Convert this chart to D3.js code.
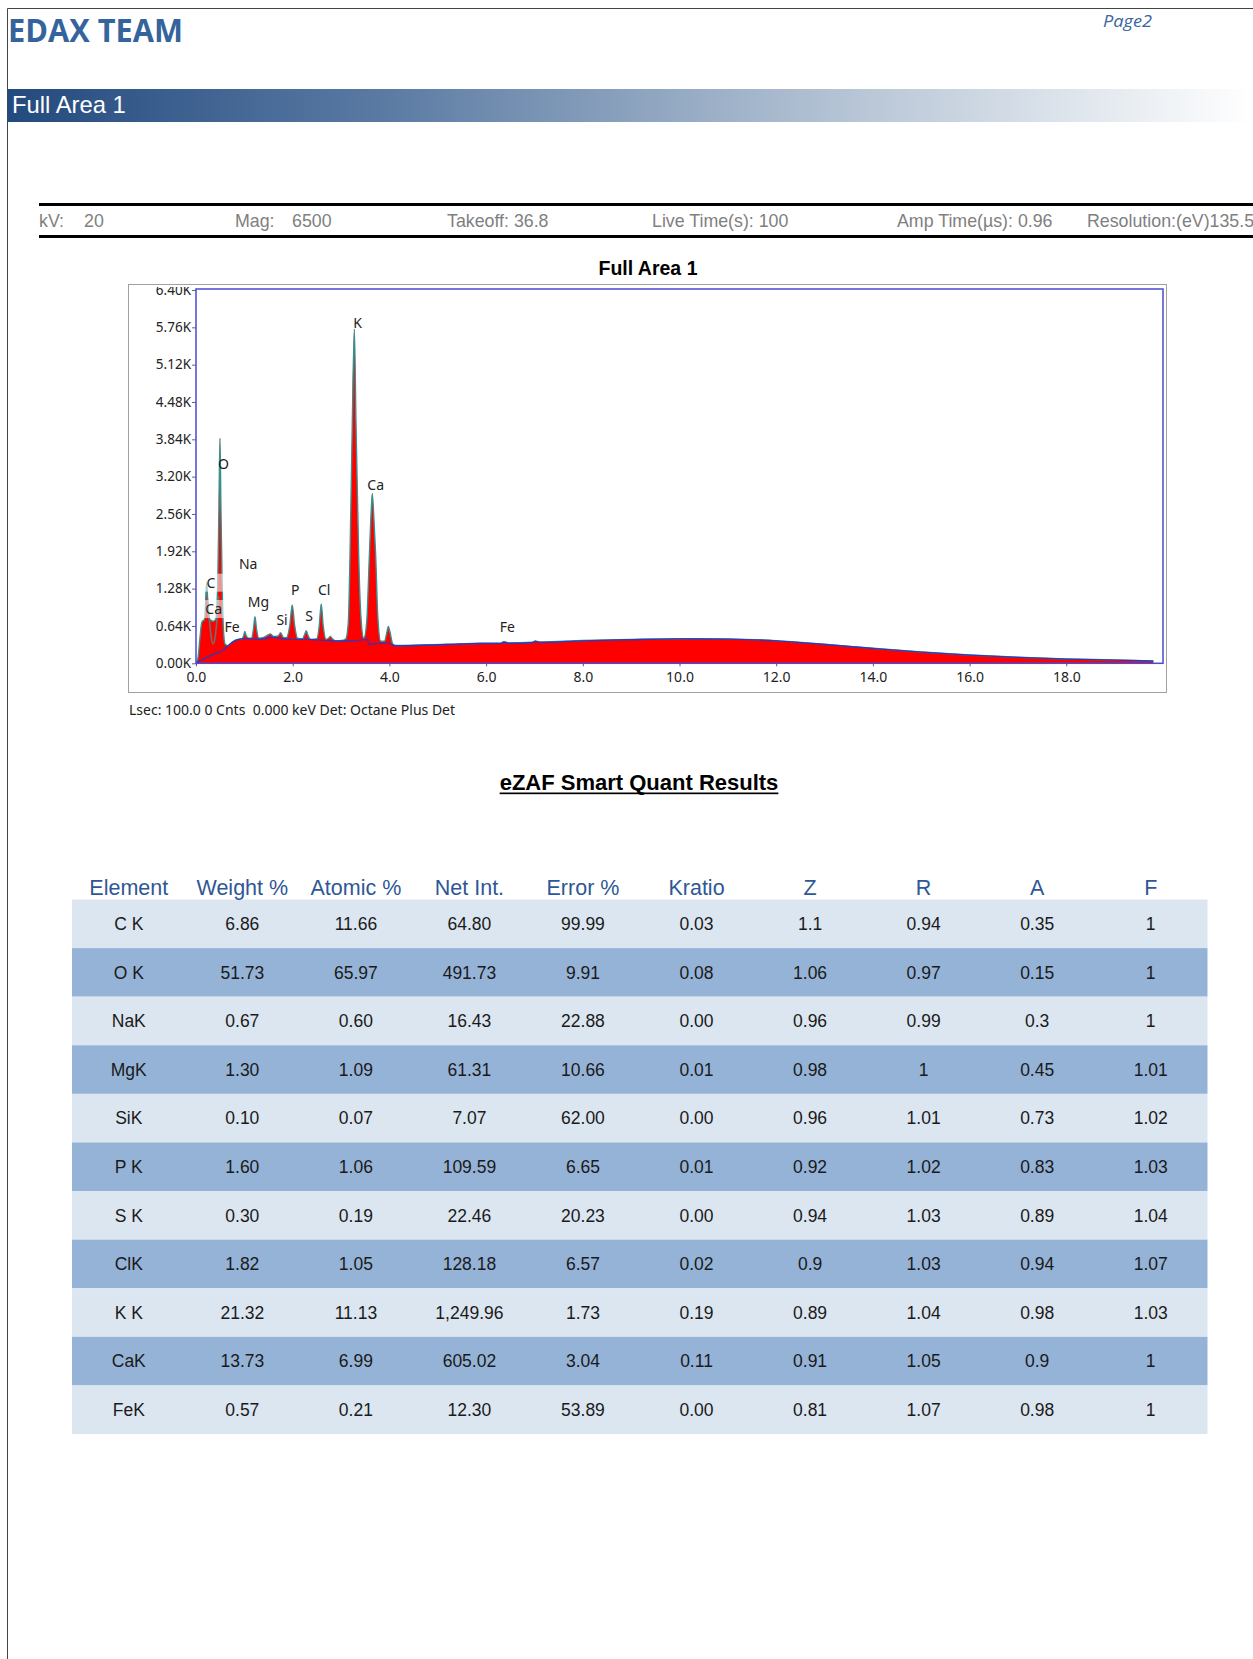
<!DOCTYPE html>
<html>
<head>
<meta charset="utf-8">
<script src="https://cdn.jsdelivr.net/npm/d3@7"></script>
<style>
  body { margin: 0; background: #fff; }
  svg { display: block; }
</style>
</head>
<body>
<svg id="page" width="1253" height="1659"></svg>
<script>
// ---- spectrum: energy in keV, counts ----
const specKeV = [0.00, 0.04, 0.08, 0.12, 0.18, 0.22, 0.26, 0.30, 0.36, 0.41, 0.45, 0.475, 0.496, 0.515, 0.54, 0.565, 0.60, 0.66, 0.71, 0.76, 0.84, 0.95, 0.985, 1.01, 1.04, 1.09, 1.15, 1.19, 1.22, 1.25, 1.30, 1.40, 1.50, 1.54, 1.60, 1.70, 1.75, 1.80, 1.87, 1.94, 1.99, 2.04, 2.10, 2.20, 2.25, 2.28, 2.31, 2.38, 2.50, 2.55, 2.59, 2.63, 2.69, 2.74, 2.78, 2.82, 2.90, 3.05, 3.10, 3.15, 3.185, 3.233, 3.275, 3.309, 3.365, 3.41, 3.47, 3.53, 3.585, 3.62, 3.646, 3.675, 3.717, 3.76, 3.82, 3.90, 3.95, 3.978, 4.01, 4.07, 4.12, 5.20, 5.90, 6.30, 6.37, 6.46, 6.95, 7.02, 7.10, 8.00, 9.00, 10.00, 11.00, 12.00, 13.00, 14.00, 15.00, 16.00, 17.00, 18.00, 19.00, 19.80];
const specCounts = [20, 90, 420, 700, 760, 1380, 800, 740, 720, 760, 1400, 2700, 3860, 2700, 1400, 620, 330, 300, 335, 370, 405, 420, 470, 545, 470, 430, 430, 600, 800, 600, 430, 445, 490, 505, 460, 470, 525, 450, 440, 650, 1000, 650, 430, 420, 500, 560, 490, 410, 420, 650, 1017, 650, 410, 430, 460, 420, 385, 395, 420, 700, 1830, 4125, 5730, 4125, 1830, 800, 430, 700, 1830, 2550, 2914, 2550, 1830, 800, 380, 380, 540, 630, 540, 330, 305, 326, 343, 345, 372, 350, 360, 385, 365, 390, 410, 422, 418, 388, 326, 257, 194, 142, 103, 74, 57, 39];

// background (blue) line
const bgKeV = [0.02, 0.20, 0.40, 0.55, 0.65, 0.75, 0.85, 1.00, 1.30, 1.60, 1.875, 2.30, 2.85, 3.25, 3.555, 3.565, 3.94, 4.12, 5.20, 5.90, 6.30, 6.37, 6.46, 6.95, 7.02, 7.10, 8.00, 9.00, 10.00, 11.00, 12.00, 13.00, 14.00, 15.00, 16.00, 17.00, 18.00, 19.00, 19.80];
const bgCounts = [15, 90, 165, 215, 290, 360, 400, 425, 412, 446, 411, 411, 383, 383, 411, 326, 354, 300, 322, 340, 340, 362, 343, 352, 375, 358, 385, 405, 418, 414, 384, 322, 254, 191, 140, 101, 72, 55, 37];

// grey fit line between C and O
const fitKeV = [0.23, 0.27, 0.31, 0.355, 0.40, 0.44, 0.47];
const fitCounts = [1150, 800, 480, 330, 480, 800, 1150];

// peak labels (centre position in keV / counts); boxed = label drawn on a pale box
const peakNames = ["K", "O", "Ca", "Na", "C", "Ca", "Mg", "P", "Cl", "Si", "S", "Fe", "Fe"];
const peakKeV = [3.34, 0.57, 3.716, 1.08, 0.31, 0.366, 1.29, 2.05, 2.65, 1.78, 2.34, 0.745, 6.44];
const peakCounts = [5840, 3412, 3057, 1708, 1382, 931, 1056, 1257, 1257, 742, 811, 628, 617];
const peakBoxed = [false, false, false, false, true, true, false, false, false, false, false, false, false];

const yTicks = [0, 640, 1280, 1920, 2560, 3200, 3840, 4480, 5120, 5760, 6400];
const xTicks = [0, 2, 4, 6, 8, 10, 12, 14, 16, 18];

// ---- eZAF quant table ----
const columns = ["Element", "Weight %", "Atomic %", "Net Int.", "Error %", "Kratio", "Z", "R", "A", "F"];
const elements = ["C K", "O K", "NaK", "MgK", "SiK", "P K", "S K", "ClK", "K K", "CaK", "FeK"];
const weightPct = ["6.86", "51.73", "0.67", "1.30", "0.10", "1.60", "0.30", "1.82", "21.32", "13.73", "0.57"];
const atomicPct = ["11.66", "65.97", "0.60", "1.09", "0.07", "1.06", "0.19", "1.05", "11.13", "6.99", "0.21"];
const netInt = ["64.80", "491.73", "16.43", "61.31", "7.07", "109.59", "22.46", "128.18", "1,249.96", "605.02", "12.30"];
const errorPct = ["99.99", "9.91", "22.88", "10.66", "62.00", "6.65", "20.23", "6.57", "1.73", "3.04", "53.89"];
const kratio = ["0.03", "0.08", "0.00", "0.01", "0.00", "0.01", "0.00", "0.02", "0.19", "0.11", "0.00"];
const zFactor = ["1.1", "1.06", "0.96", "0.98", "0.96", "0.92", "0.94", "0.9", "0.89", "0.91", "0.81"];
const rFactor = ["0.94", "0.97", "0.99", "1", "1.01", "1.02", "1.03", "1.03", "1.04", "1.05", "1.07"];
const aFactor = ["0.35", "0.15", "0.3", "0.45", "0.73", "0.83", "0.89", "0.94", "0.98", "0.9", "0.98"];
const fFactor = ["1", "1", "1", "1.01", "1.02", "1.03", "1.04", "1.07", "1.03", "1", "1"];

const infoItems = [
  { text: "kV:", x: 39 }, { text: "20", x: 84 },
  { text: "Mag:", x: 235 }, { text: "6500", x: 292 },
  { text: "Takeoff: 36.8", x: 447 },
  { text: "Live Time(s): 100", x: 652 },
  { text: "Amp Time(\u00b5s): 0.96", x: 897 },
  { text: "Resolution:(eV)135.5", x: 1087 }
];

const svg = d3.select("#page");
const sans = "'Liberation Sans', Arial, sans-serif";
const ui = "'Noto Sans', 'Open Sans', sans-serif";

svg.append("rect").attr("width", 1253).attr("height", 1659).attr("fill", "#fff");

// page frame
svg.append("path")
  .attr("d", "M7.5,1659V8.5H1253")
  .attr("fill", "none").attr("stroke", "#444").attr("stroke-width", 1);

// header
svg.append("text")
  .attr("x", 8).attr("y", 42)
  .attr("font-family", "'Open Sans', sans-serif").attr("font-weight", 700)
  .attr("font-size", 33).attr("fill", "#35639c")
  .attr("textLength", 175).attr("lengthAdjust", "spacingAndGlyphs")
  .text("EDAX TEAM");

svg.append("text")
  .attr("x", 1103).attr("y", 27)
  .attr("font-family", "'Open Sans', sans-serif").attr("font-style", "italic")
  .attr("font-size", 16).attr("fill", "#3b66a0")
  .attr("textLength", 49).attr("lengthAdjust", "spacingAndGlyphs")
  .text("Page2");

// banner
const defs = svg.append("defs");
const grad = defs.append("linearGradient").attr("id", "banner").attr("x1", "0%").attr("x2", "100%");
grad.append("stop").attr("offset", "0%").attr("stop-color", "#234a7e");
grad.append("stop").attr("offset", "30%").attr("stop-color", "#5a7aa3");
grad.append("stop").attr("offset", "62%").attr("stop-color", "#a9bace");
grad.append("stop").attr("offset", "100%").attr("stop-color", "#ffffff");

svg.append("rect")
  .attr("x", 7.5).attr("y", 89).attr("width", 1245.5).attr("height", 33)
  .attr("fill", "url(#banner)");
svg.append("text")
  .attr("x", 12).attr("y", 113)
  .attr("font-family", sans).attr("font-size", 23.8).attr("fill", "#fff")
  .text("Full Area 1");

// acquisition info line
svg.append("rect").attr("x", 39).attr("y", 203).attr("width", 1214).attr("height", 3).attr("fill", "#000");
svg.append("rect").attr("x", 39).attr("y", 235).attr("width", 1214).attr("height", 3).attr("fill", "#000");
svg.selectAll("text.info")
  .data(infoItems)
  .join("text")
  .attr("class", "info")
  .attr("x", d => d.x).attr("y", 226.5)
  .attr("font-family", sans).attr("font-size", 17.8).attr("fill", "#808080")
  .text(d => d.text);

// ---- spectrum chart ----
svg.append("text")
  .attr("x", 648).attr("y", 274.5)
  .attr("text-anchor", "middle")
  .attr("font-family", sans).attr("font-weight", 700).attr("font-size", 19.5)
  .text("Full Area 1");

svg.append("rect")
  .attr("x", 128.5).attr("y", 284.5).attr("width", 1038).attr("height", 408)
  .attr("fill", "#fff").attr("stroke", "#a0a0a0").attr("stroke-width", 1);

const plot = { left: 196, right: 1163, top: 289, bottom: 663.3 };
const x = d3.scaleLinear().domain([0, 20]).range([plot.left, plot.right]);
const y = d3.scaleLinear().domain([0, 6400]).range([plot.bottom, 290]);

defs.append("clipPath").attr("id", "plotClip")
  .append("rect")
  .attr("x", plot.left).attr("y", plot.top)
  .attr("width", plot.right - plot.left).attr("height", plot.bottom - plot.top);
defs.append("clipPath").attr("id", "yClip")
  .append("rect").attr("x", 130).attr("y", 287).attr("width", 70).attr("height", 400);

const spectrum = specKeV.map((k, i) => [k, specCounts[i]]);
const background = bgKeV.map((k, i) => [k, bgCounts[i]]);
const fit = fitKeV.map((k, i) => [k, fitCounts[i]]);

const area = d3.area()
  .x(d => x(d[0])).y0(y(0)).y1(d => y(d[1]))
  .curve(d3.curveMonotoneX);
const line = d3.line()
  .x(d => x(d[0])).y(d => y(d[1]))
  .curve(d3.curveMonotoneX);

const g = svg.append("g").attr("clip-path", "url(#plotClip)");
g.append("path").datum(spectrum).attr("d", area).attr("fill", "#ff0000");
g.append("path").datum(spectrum).attr("d", line)
  .attr("fill", "none").attr("stroke", "#3b8f8f").attr("stroke-width", 1.4);
g.append("path").datum(fit).attr("d", line)
  .attr("fill", "none").attr("stroke", "#6f6f6f").attr("stroke-width", 1.6);
g.append("path").datum(background).attr("d", line)
  .attr("fill", "none").attr("stroke", "#3535b5").attr("stroke-width", 1.4);

// peak labels
const labels = svg.append("g").selectAll("g")
  .data(peakNames)
  .join("g")
  .attr("transform", (d, i) => `translate(${x(peakKeV[i])},${y(peakCounts[i])})`);
labels.filter((d, i) => peakBoxed[i])
  .append("rect")
  .attr("x", -12).attr("y", -9).attr("width", 24).attr("height", 18)
  .attr("fill", "#fff").attr("fill-opacity", 0.55);
labels.append("text")
  .attr("dy", "0.35em")
  .attr("text-anchor", "middle")
  .attr("font-family", ui).attr("font-size", 14).attr("fill", "#222")
  .text(d => d);

// axes
const yAxis = svg.append("g")
  .attr("clip-path", "url(#yClip)")
  .append("g")
  .attr("transform", `translate(${plot.left},0)`)
  .call(d3.axisLeft(y).tickValues(yTicks)
    .tickFormat(d => (d / 1000).toFixed(2) + "K")
    .tickSize(4).tickPadding(1));
yAxis.select(".domain").remove();
yAxis.selectAll("line").attr("stroke", "#666");
yAxis.selectAll("text").attr("font-family", ui).attr("font-size", 13.5).attr("fill", "#222");

const xAxis = svg.append("g")
  .attr("transform", `translate(0,${plot.bottom})`)
  .call(d3.axisBottom(x).tickValues(xTicks).tickFormat(d3.format(".1f"))
    .tickSize(3).tickPadding(6));
xAxis.select(".domain").remove();
xAxis.selectAll("line").attr("stroke", "#4b4bd0");
xAxis.selectAll("text").attr("font-family", ui).attr("font-size", 14).attr("fill", "#222");

// plot frame
svg.append("rect")
  .attr("x", plot.left).attr("y", plot.top)
  .attr("width", plot.right - plot.left).attr("height", plot.bottom - plot.top)
  .attr("fill", "none").attr("stroke", "#4b4bd0").attr("stroke-width", 1.5);

svg.append("text")
  .attr("x", 129).attr("y", 715)
  .attr("font-family", ui).attr("font-size", 14).attr("fill", "#222")
  .attr("xml:space", "preserve")
  .text("Lsec: 100.0 0 Cnts  0.000 keV Det: Octane Plus Det");

// ---- quant table ----
const title = svg.append("text")
  .attr("x", 639).attr("y", 790)
  .attr("text-anchor", "middle")
  .attr("font-family", sans).attr("font-weight", 700).attr("font-size", 22)
  .text("eZAF Smart Quant Results");
const tw = title.node().getComputedTextLength();
svg.append("rect")
  .attr("x", 639 - tw / 2).attr("y", 792.5).attr("width", tw).attr("height", 1.7).attr("fill", "#000");

const colX = d3.scaleBand().domain(columns).range([72, 1207.5]);
const rowY = d3.scaleBand().domain(elements).range([899.5, 1434]);

const rows = elements.map((el, i) => [el, weightPct[i], atomicPct[i], netInt[i], errorPct[i],
  kratio[i], zFactor[i], rFactor[i], aFactor[i], fFactor[i]]);

svg.append("g").selectAll("rect")
  .data(elements)
  .join("rect")
  .attr("x", colX.range()[0]).attr("y", d => rowY(d))
  .attr("width", colX.range()[1] - colX.range()[0]).attr("height", rowY.bandwidth())
  .attr("fill", (d, i) => i % 2 === 0 ? "#dce6f1" : "#95b3d7");

svg.append("g").selectAll("text")
  .data(columns)
  .join("text")
  .attr("x", d => colX(d) + colX.bandwidth() / 2)
  .attr("y", 894.5)
  .attr("text-anchor", "middle")
  .attr("font-family", sans).attr("font-size", 21.5).attr("fill", "#2f5796")
  .text(d => d);

const rowG = svg.append("g").selectAll("g")
  .data(rows)
  .join("g")
  .attr("transform", (d, i) => `translate(0,${rowY(elements[i]) + rowY.bandwidth() / 2})`);
rowG.selectAll("text")
  .data(d => d.map((v, j) => ({ v, col: columns[j] })))
  .join("text")
  .attr("x", d => colX(d.col) + colX.bandwidth() / 2)
  .attr("dy", "0.36em")
  .attr("text-anchor", "middle")
  .attr("font-family", sans).attr("font-size", 17.5).attr("fill", "#1a1a1a")
  .text(d => d.v);
</script>
</body>
</html>
